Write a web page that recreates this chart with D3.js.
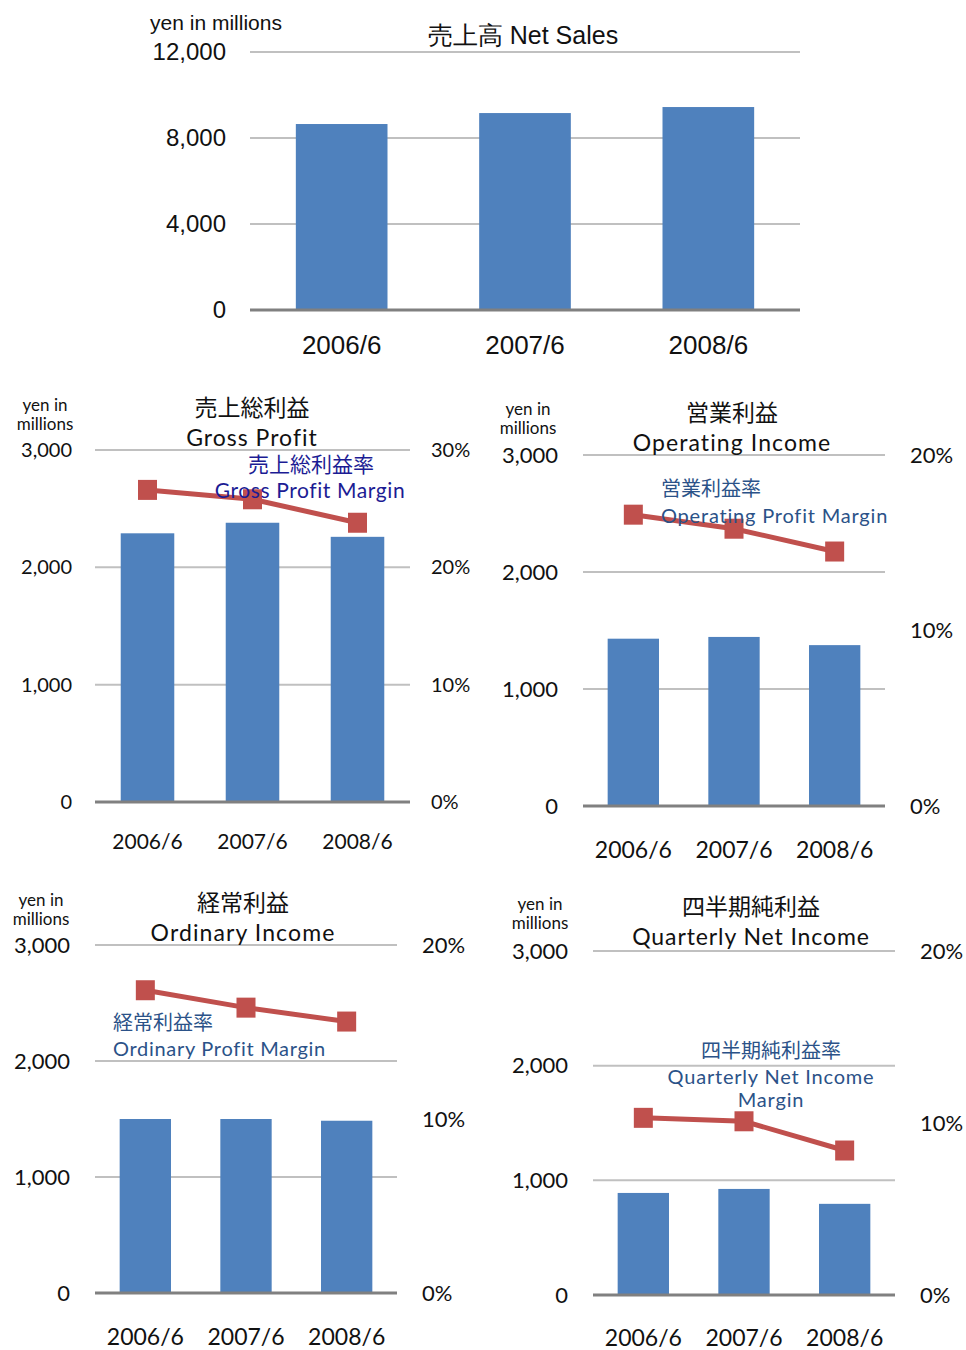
<!DOCTYPE html>
<html>
<head>
<meta charset="utf-8">
<script src="https://cdn.jsdelivr.net/npm/d3@7"></script>
<style>
body{margin:0;background:#fff;}
text{font-family:Lato,"Noto Sans CJK JP",sans-serif;fill:#111;}
</style>
</head>
<body>
<script>
var categories = ["2006/6","2007/6","2008/6"];

var netSales = [8650, 9160, 9440];
var salesTicks = [0, 4000, 8000, 12000];

var grossProfit = [2290, 2380, 2260];
var grossMargin = [26.6, 25.8, 23.8];
var operatingIncome = [1430, 1445, 1375];
var operatingMargin = [16.6, 15.8, 14.5];
var ordinaryIncome = [1500, 1500, 1485];
var ordinaryMargin = [17.4, 16.4, 15.6];
var netIncome = [890, 925, 795];
var netMargin = [10.3, 10.1, 8.4];

var profitTicks = [0, 1000, 2000, 3000];
var grossPctTicks = [0, 10, 20, 30];
var pctTicks = [0, 10, 20];

var svg = d3.select("body").append("svg")
	.attr("width",966)
	.attr("height",1350);

var fmt = d3.format(",");

function panel(c){
	var g = svg.append("g");
	var x = d3.scaleBand().domain(categories).range([c.x0, c.x1]).paddingInner(c.pad).paddingOuter(c.pad/2);
	var y = d3.scaleLinear().domain([0, c.yMax]).range([c.yb, c.yt]);

	// gridlines
	g.selectAll("line.grid").data(c.ticks.slice(1)).enter().append("line")
		.attr("x1",c.x0).attr("x2",c.x1)
		.attr("y1",function(d){return y(d);}).attr("y2",function(d){return y(d);})
		.attr("stroke","#c0c0c0").attr("stroke-width",2);

	// left tick labels
	var ya = d3.axisLeft(y).tickValues(c.ticks).tickFormat(fmt).tickSize(0).tickPadding(0);
	var ax = g.append("g").attr("transform","translate("+c.lx+",0)").call(ya);
	ax.select(".domain").remove();
	ax.selectAll("text").style("font-family",c.font).style("font-size",c.tickSize+"px").attr("fill","#111");

	// bars
	g.selectAll("rect.bar").data(c.values).enter().append("rect")
		.attr("x",function(d,i){return x(categories[i]);})
		.attr("y",function(d){return y(d);})
		.attr("width",x.bandwidth())
		.attr("height",function(d){return y(0)-y(d);})
		.attr("fill","#4f81bd");

	// baseline
	g.append("line").attr("x1",c.x0).attr("x2",c.x1).attr("y1",y(0)).attr("y2",y(0))
		.attr("stroke","#808080").attr("stroke-width",3);

	// category labels
	var xa = d3.axisBottom(x).tickSize(0).tickPadding(0);
	var bx = g.append("g").attr("transform","translate(0,"+c.catY+")").call(xa);
	bx.select(".domain").remove();
	bx.selectAll("text").style("font-family",c.font).style("font-size",c.catSize+"px").attr("fill","#111").attr("dy","0");

	// unit label
	c.unit.forEach(function(u,i){
		g.append("text").text(u).attr("x",c.ux).attr("y",c.uy+i*c.unitSize*1.1)
			.attr("text-anchor",c.unitAnchor||"middle")
			.style("font-family",c.font).style("font-size",c.unitSize+"px");
	});

	// title
	c.title.forEach(function(t,i){
		g.append("text").text(t).attr("x",c.tx).attr("y",c.ty+i*c.titleGap)
			.attr("text-anchor","middle")
			.style("font-family",c.font).style("font-size",c.titleSize+"px")
			.style("letter-spacing",(i>0 ? (c.titleLs||0) : 0)+"px");
	});

	if(c.margin){
		var y2 = d3.scaleLinear().domain([0, c.pMax]).range([c.yb, c.yt]);
		var ra = d3.axisRight(y2).tickValues(c.pTicks).tickFormat(function(d){return d+"%";}).tickSize(0).tickPadding(0);
		var rx = g.append("g").attr("transform","translate("+c.rx+",0)").call(ra);
		rx.select(".domain").remove();
		rx.selectAll("text").style("font-family",c.font).style("font-size",c.tickSize+"px").attr("fill","#111");

		var cx = function(i){return x(categories[i]) + x.bandwidth()/2;};
		var line = d3.line().x(function(d,i){return cx(i);}).y(function(d){return y2(d);});

		var ann = g.append("g");
		c.ann.forEach(function(a,i){
			ann.append("text").text(a.t).attr("x",a.x).attr("y",a.y)
				.attr("text-anchor",a.anchor||"middle")
				.style("font-family",c.font).style("font-size",c.annSize+"px")
				.style("letter-spacing",(i>0 ? c.annLs : 0)+"px")
				.style("fill",c.annColor);
		});

		g.append("path").datum(c.margin).attr("d",line)
			.attr("fill","none").attr("stroke","#c0504d").attr("stroke-width",5);
		g.selectAll("rect.mk").data(c.margin).enter().append("rect")
			.attr("x",function(d,i){return cx(i)-9.5;})
			.attr("y",function(d){return y2(d)-10;})
			.attr("width",19).attr("height",20)
			.attr("fill","#c0504d");
		if(c.annOnTop) ann.raise();
	}
}

var lato = "Lato,'Noto Sans CJK JP',sans-serif";

// 売上高
panel({
	x0:250, x1:800, yt:52, yb:310, yMax:12000, ticks:salesTicks, pad:0.5,
	values:netSales, lx:226, catY:354, font:"'Liberation Sans Narrow','Arial Narrow',sans-serif",
	tickSize:24, catSize:26,
	unit:["yen in millions"], ux:216, uy:30, unitSize:21,
	title:["売上高 Net Sales"], tx:523, ty:44, titleGap:0, titleSize:25
});

// 売上総利益
panel({
	x0:95, x1:410, yt:450, yb:802, yMax:3000, ticks:profitTicks, pad:0.49,
	values:grossProfit, lx:72, catY:849, font:lato,
	tickSize:20, catSize:21,
	unit:["yen in","millions"], ux:45, uy:411, unitSize:17,
	title:["売上総利益","Gross Profit"], tx:252, ty:416, titleGap:30, titleSize:23, titleLs:1,
	margin:grossMargin, pMax:30, pTicks:grossPctTicks, rx:431,
	ann:[{t:"売上総利益率",x:311,y:472},{t:"Gross Profit Margin",x:310,y:498}],
	annSize:21, annLs:0.6, annColor:"#1c1c94", annOnTop:true
});

// 営業利益
panel({
	x0:583, x1:885, yt:455, yb:806, yMax:3000, ticks:profitTicks, pad:0.49,
	values:operatingIncome, lx:558, catY:858, font:lato,
	tickSize:22, catSize:23,
	unit:["yen in","millions"], ux:528, uy:415, unitSize:17,
	title:["営業利益","Operating Income"], tx:732, ty:421, titleGap:30, titleSize:23, titleLs:1.1,
	margin:operatingMargin, pMax:20, pTicks:pctTicks, rx:910,
	ann:[{t:"営業利益率",x:661,y:496,anchor:"start"},{t:"Operating Profit Margin",x:661,y:523,anchor:"start"}],
	annSize:20, annLs:0.8, annColor:"#2b5288", annOnTop:true
});

// 経常利益
panel({
	x0:95, x1:397, yt:945, yb:1293, yMax:3000, ticks:profitTicks, pad:0.49,
	values:ordinaryIncome, lx:70, catY:1345, font:lato,
	tickSize:22, catSize:23,
	unit:["yen in","millions"], ux:41, uy:906, unitSize:17,
	title:["経常利益","Ordinary Income"], tx:243, ty:911, titleGap:30, titleSize:23, titleLs:1.1,
	margin:ordinaryMargin, pMax:20, pTicks:pctTicks, rx:422,
	ann:[{t:"経常利益率",x:113,y:1030,anchor:"start"},{t:"Ordinary Profit Margin",x:113,y:1056,anchor:"start"}],
	annSize:20, annLs:0.7, annColor:"#2b5288"
});

// 四半期純利益
panel({
	x0:593, x1:895, yt:951, yb:1295, yMax:3000, ticks:profitTicks, pad:0.49,
	values:netIncome, lx:568, catY:1346, font:lato,
	tickSize:22, catSize:23,
	unit:["yen in","millions"], ux:540, uy:910, unitSize:17,
	title:["四半期純利益","Quarterly Net Income"], tx:751, ty:915, titleGap:30, titleSize:23, titleLs:0.9,
	margin:netMargin, pMax:20, pTicks:pctTicks, rx:920,
	ann:[{t:"四半期純利益率",x:771,y:1058},{t:"Quarterly Net Income",x:771,y:1084},{t:"Margin",x:771,y:1107}],
	annSize:20, annLs:0.8, annColor:"#2b5288"
});
</script>
</body>
</html>
